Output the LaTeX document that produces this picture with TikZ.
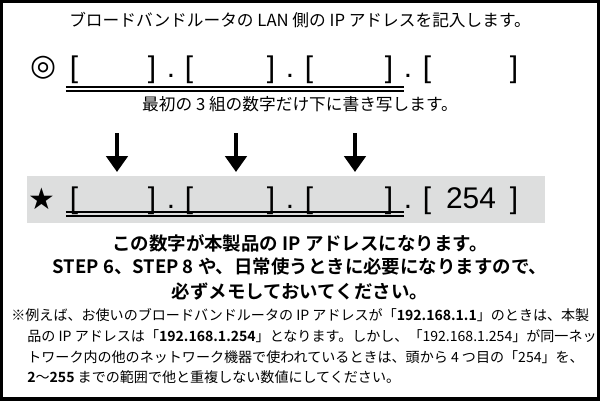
\documentclass[tikz,border=0pt]{standalone}
\usepackage{fontspec}
\setmainfont{Noto Sans CJK JP}[BoldFont={* Bold}]
\newfontfamily\symfont{DejaVu Sans}
\newfontfamily\brkfont{Liberation Sans}
\usetikzlibrary{arrows.meta,positioning}
\definecolor{bandgray}{RGB}{221,222,222}

\begin{document}
\begin{tikzpicture}[x=0.02cm,y=-0.02cm,
  brk/.style={font=\fontsize{17}{17}\selectfont\brkfont, inner sep=0pt, anchor=base},
  title/.style={font=\fontsize{9.5}{11}\selectfont, inner sep=0pt},
  lead/.style={font=\fontsize{10.5}{12}\selectfont\bfseries, inner sep=0pt},
  note/.style={font=\fontsize{8}{10}\selectfont, inner sep=0pt, anchor=west},
  down/.style={-{Triangle[width=12pt,length=9pt]}, line width=2.2pt}]
  \useasboundingbox (0,0) rectangle (600,400);
  \draw[line width=2pt] (1,1) rectangle (599,399);

  % Router address
  \node[title] (head) at (300,20) {ブロードバンドルータの LAN 側の IP アドレスを記入します。};
  \node[font=\symfont\fontsize{17}{17}\selectfont, inner sep=0pt] (ring) at (44,68) {◎};
  \foreach \x/\t [count=\k] in {74/[,152/],171/.,189/[,271/],290/.,309/[,389/],408/.,427/[,514/]}
    \node[brk] (a\k) at (\x,77) {\t};
  \draw[line width=0.8pt] (66,87) -- (404,87);
  \draw[line width=0.8pt] (66,91) -- (404,91);
  \node[title] (copy) at (300,104) {最初の 3 組の数字だけ下に書き写します。};

  % Arrows
  \foreach \x/\n in {117/1,236/2,355/3} {
    \coordinate (s\n) at (\x,133);
    \coordinate (e\n) at (\x,172);
    \draw[down] (s\n) -- (e\n);
  }

  % Product address
  \fill[bandgray] (27,176) rectangle (545,223);
  \node[font=\symfont\fontsize{17}{17}\selectfont, inner sep=0pt] (star) at (42,199) {★};
  \foreach \x/\t [count=\k] in {74/[,152/],171/.,189/[,271/],290/.,309/[,389/],408/.,427/[,514/]}
    \node[brk] (b\k) at (\x,208) {\t};
  \node[brk] (last) at (471,208) {254};
  \draw[line width=0.8pt] (66,212) -- (404,212);
  \draw[line width=0.8pt] (66,216) -- (404,216);

  % Messages
  \node[lead] (m1) at (300,243) {この数字が本製品の IP アドレスになります。};
  \node[lead] (m2) at (300,267) {STEP 6、STEP 8 や、日常使うときに必要になりますので、};
  \node[lead] (m3) at (300,291) {必ずメモしておいてください。};
  \node[note] (n1) at (11,315) {※例えば、お使いのブロードバンドルータの IP アドレスが「\textbf{192.168.1.1}」のときは、本製};
  \node[note] (n2) at (27,336) {品の IP アドレスは「\textbf{192.168.1.254}」となります。しかし、「192.168.1.254」が同一ネッ};
  \node[note] (n3) at (27,357) {トワーク内の他のネットワーク機器で使われているときは、頭から 4 つ目の「254」を、};
  \node[note] (n4) at (27,377) {\textbf{2}～\textbf{255} までの範囲で他と重複しない数値にしてください。};
\end{tikzpicture}
\end{document}
